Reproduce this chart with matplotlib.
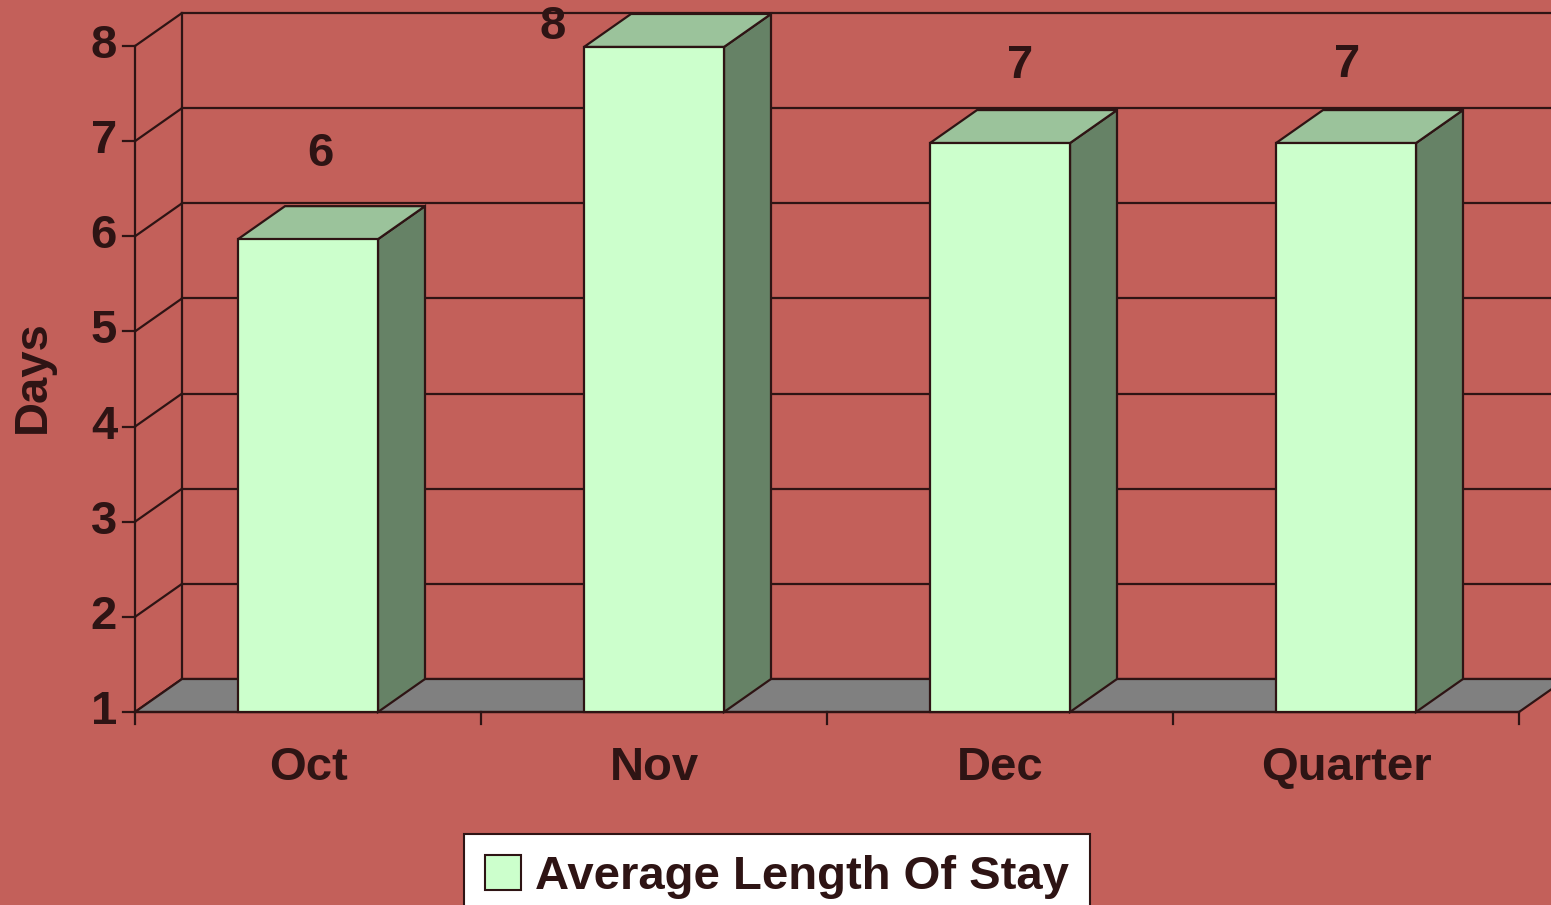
import matplotlib
matplotlib.use("Agg")
import matplotlib.pyplot as plt
from matplotlib.patches import Polygon, Patch

plt.rcParams['font.family'] = ['Liberation Sans', 'DejaVu Sans']
plt.rcParams['font.weight'] = 'bold'

# ---- data ----
categories = ["Oct", "Nov", "Dec", "Quarter"]
values = [5.97, 7.99, 6.98, 6.98]
series_name = "Average Length Of Stay"
y_ticks = [1, 2, 3, 4, 5, 6, 7, 8]
y_label = "Days"

# ---- style ----
BG = "#C3605A"
INK = "#2E1414"
FRONT = "#CCFFCC"
TOP = "#9BC39B"
SIDE = "#668266"
FLOOR = "#808080"
FS = 34

W, H = 1551, 905
fig = plt.figure(figsize=(W / 100, H / 100), dpi=100, facecolor=BG)
ax = fig.add_axes([0, 0, 1, 1])
ax.set_facecolor(BG)
ax.axis("off")

# pixel geometry of the front plane
x0_px, cat_px = 135, 346.0
y1_px, unit_px = 712, 95.14
ax.set_xlim(-x0_px / cat_px, (W - x0_px) / cat_px)
ax.set_ylim(1 - (H - y1_px) / unit_px, 1 + y1_px / unit_px)

dx = 47 / cat_px       # depth offset in x units
dy = 33 / unit_px      # depth offset in value units
n = len(categories)
ymin, ymax = y_ticks[0], y_ticks[-1]
lw = 1.6

# floor
ax.add_patch(Polygon([(0, ymin), (n, ymin), (n + dx, ymin + dy), (dx, ymin + dy)],
                     closed=True, facecolor=FLOOR, edgecolor=INK, lw=lw, zorder=1))
# back gridlines + side-wall diagonals
for v in y_ticks:
    ax.plot([dx, n + dx], [v + dy, v + dy], color=INK, lw=lw, zorder=0.5)
    ax.plot([0, dx], [v, v + dy], color=INK, lw=lw, zorder=0.5, solid_capstyle='butt')
# side wall back vertical
ax.plot([dx, dx], [ymin + dy, ymax + dy], color=INK, lw=lw, zorder=0.6)
# front y axis
ax.plot([0, 0], [ymin, ymax], color=INK, lw=lw, zorder=3)
tick_len_x = 12 / cat_px
for v in y_ticks:
    ax.plot([-tick_len_x, 0], [v, v], color=INK, lw=lw, zorder=3)
    ax.text(-18 / cat_px, v, str(v), ha="right", va="center", fontsize=FS,
            fontweight="bold", color=INK)
# front x axis
ax.plot([0, n], [ymin, ymin], color=INK, lw=lw, zorder=3)
tick_len_y = 12 / unit_px
for i in range(n + 1):
    ax.plot([i, i], [ymin, ymin - tick_len_y], color=INK, lw=lw, zorder=3)

# bars
hw = 70 / cat_px
label_offsets = [(12, 0.90), (-101, 0.21), (20, 0.81), (1, 0.82)]  # (px, value units)
for i, (cat, v) in enumerate(zip(categories, values)):
    c = i + 0.5
    L, R = c - hw, c + hw
    ax.add_patch(Polygon([(R, ymin), (R + dx, ymin + dy), (R + dx, v + dy), (R, v)],
                         closed=True, facecolor=SIDE, edgecolor=INK, lw=lw, zorder=4))
    ax.add_patch(Polygon([(L, v), (R, v), (R + dx, v + dy), (L + dx, v + dy)],
                         closed=True, facecolor=TOP, edgecolor=INK, lw=lw, zorder=4))
    ax.add_patch(Polygon([(L, ymin), (R, ymin), (R, v), (L, v)],
                         closed=True, facecolor=FRONT, edgecolor=INK, lw=lw, zorder=5))
    ox, oy = label_offsets[i]
    ax.text(c + ox / cat_px, v + oy, f"{v:.0f}", ha="center", va="center",
            fontsize=FS, fontweight="bold", color=INK, zorder=6)
    ax.text(c, ymin - 56 / unit_px, cat, ha="center", va="center", fontsize=FS,
            fontweight="bold", color=INK)

# y label
ax.text(-102 / cat_px, 1 + (712 - 377) / unit_px, y_label, rotation=90,
        ha="center", va="center", fontsize=FS, fontweight="bold", color=INK)

# legend
handle = Patch(facecolor=FRONT, edgecolor=INK, lw=1.5, label=series_name)
leg = fig.legend(handles=[handle], loc="upper center",
                 bbox_to_anchor=(777 / W, 1 - 834 / H), frameon=True,
                 fancybox=False, edgecolor=INK, facecolor="white", framealpha=1,
                 prop={"family": "Liberation Sans", "weight": "bold", "size": FS},
                 handlelength=0.75, handleheight=0.75, handletextpad=0.3,
                 borderpad=0.45, borderaxespad=0)
leg.get_frame().set_linewidth(1.5)
for t in leg.get_texts():
    t.set_color(INK)

fig.savefig("out.png", dpi=100, facecolor=BG)
